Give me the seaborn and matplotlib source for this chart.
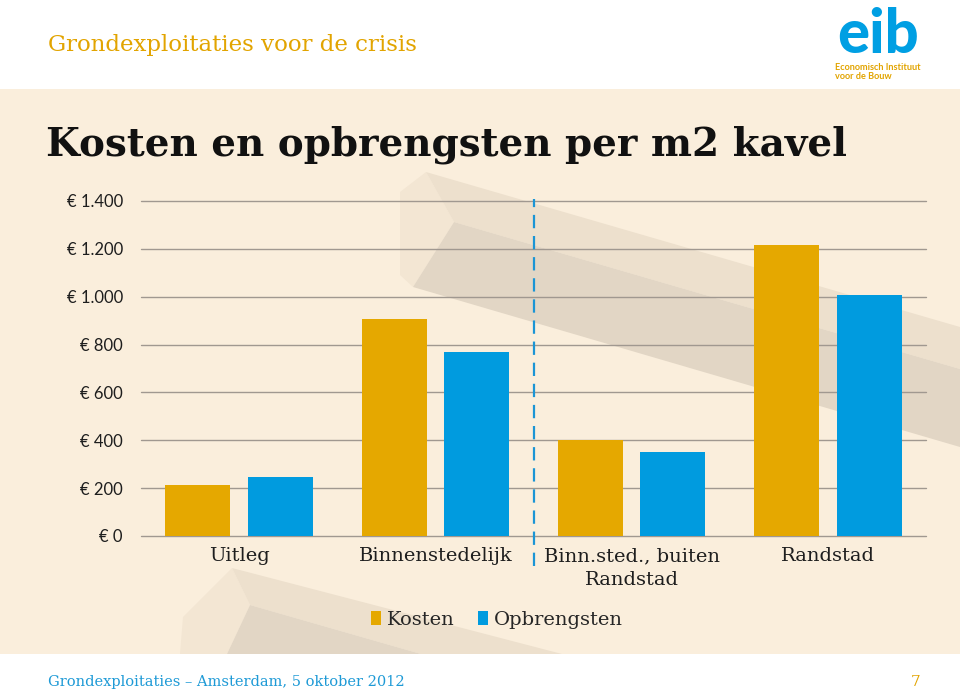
import matplotlib
matplotlib.use("Agg")
import matplotlib.pyplot as plt
from matplotlib.patches import Polygon, Rectangle
import pandas as pd
import seaborn as sns

# ------------------------------------------------------------------------
#  Data (EUR per m2 kavel)
# ------------------------------------------------------------------------
categories = ["Uitleg", "Binnenstedelijk", "Binn.sted., buiten Randstad", "Randstad"]
tick_labels = ["Uitleg", "Binnenstedelijk", "Binn.sted., buiten\nRandstad", "Randstad"]
series = ["Kosten", "Opbrengsten"]
kosten = [213, 905, 402, 1218]
opbrengsten = [248, 768, 353, 1007]
y_ticks = [0, 200, 400, 600, 800, 1000, 1200, 1400]

GOLD = "#E5A800"
BLUE = "#009BDF"
CREAM = "#FAEEDC"
W, H = 960, 692

df = pd.DataFrame({
    "categorie": categories * 2,
    "reeks": [series[0]] * len(categories) + [series[1]] * len(categories),
    "waarde": kosten + opbrengsten,
})

sns.set_theme(style="white")
plt.rcParams["font.family"] = ["DejaVu Serif"]


def px(x, y):
    """pixel coords (top-left origin) -> figure fraction"""
    return x / W, 1 - y / H


def poly(points, color, alpha=1.0):
    pts = [px(x, y) for x, y in points]
    return Polygon(pts, closed=True, transform=fig.transFigure, facecolor=color,
                   edgecolor="none", alpha=alpha, zorder=-2)


fig = plt.figure(figsize=(W / 100, H / 100), dpi=100, facecolor="white")

# slide background
fig.patches.append(Rectangle(px(0, 654), 1, (654 - 89) / H, transform=fig.transFigure,
                             facecolor=CREAM, edgecolor="none", zorder=-3))
# decorative beams
fig.patches.append(poly([(400, 192), (426, 172), (454, 222), (413, 287), (400, 275)], "#F3E6D3"))
fig.patches.append(poly([(426, 172), (960, 327), (960, 369), (454, 222)], "#EDE0CD"))
fig.patches.append(poly([(454, 222), (960, 369), (960, 447), (413, 287)], "#E2D6C5"))
fig.patches.append(poly([(183, 617), (232, 568), (250, 605), (227, 654), (180, 654)], "#F3E6D3"))
fig.patches.append(poly([(232, 568), (562, 654), (421, 654), (250, 605)], "#EDE0CD"))
fig.patches.append(poly([(250, 605), (421, 654), (227, 654)], "#E2D6C5"))

# ------------------------------------------------------------------------
#  Chart
# ------------------------------------------------------------------------
left, right, bottom, top = 141, 926, 536, 201
ax = fig.add_axes([left / W, (H - bottom) / H, (right - left) / W, (bottom - top) / H])
ax.set_facecolor("none")

sns.barplot(data=df, x="categorie", y="waarde", hue="reeks", order=categories,
            hue_order=series, palette=[GOLD, BLUE], saturation=1,
            width=0.84, gap=0.21, linewidth=0, ax=ax, zorder=3)

handles, labels = ax.get_legend_handles_labels()
ax.get_legend().remove()

ax.set_xlim(-0.5, len(categories) - 0.5)
ax.set_ylim(0, 1400)
ax.set_yticks(y_ticks)
ax.set_yticklabels([f"€ {v:,.0f}".replace(",", ".") for v in y_ticks],
                   fontfamily="Lato", fontsize=12, color="#1E1E1E")
ax.set_xticks(range(len(categories)))
ax.set_xticklabels(tick_labels, fontsize=14, color="#1E1E1E", linespacing=1.45)
ax.tick_params(axis="y", length=0, pad=13)
ax.tick_params(axis="x", length=0, pad=8)
ax.set_xlabel("")
ax.set_ylabel("")
for s in ax.spines.values():
    s.set_visible(False)
ax.yaxis.grid(True, color="#A09890", linewidth=1.0)
ax.set_axisbelow(True)
for gl in ax.get_ygridlines():
    gl.set_clip_on(False)

# dashed divider between the groups
ax.axvline(1.5, ymin=-0.09, ymax=1.006, color="#1B95D5", linewidth=1.6,
           linestyle=(0, (6, 3.5)), clip_on=False, zorder=4)

fig.legend(handles, labels, loc="center", bbox_to_anchor=px(497, 620), ncol=2,
           frameon=False, fontsize=14, handlelength=0.5, handleheight=0.75,
           handletextpad=0.3, columnspacing=1.2)

# ------------------------------------------------------------------------
#  Slide texts
# ------------------------------------------------------------------------
fig.text(*px(48, 45), "Grondexploitaties voor de crisis", color="#E2A400",
         fontsize=16.5, va="center", ha="left")
fig.text(*px(46, 145), "Kosten en opbrengsten per m2 kavel", color="#111111",
         fontsize=28, fontweight="bold", va="center", ha="left")
fig.text(*px(48, 682), "Grondexploitaties – Amsterdam, 5 oktober 2012", color="#1E9AD6",
         fontsize=10.5, va="center", ha="left")
fig.text(*px(920, 682), "7", color="#E2A400", fontsize=11, va="center", ha="right")

# logo
fig.text(*px(878, 35), "eib", color="#009FE3", fontfamily="Lato", fontweight="black",
         fontsize=43, va="center", ha="center")
fig.text(*px(835, 72), "Economisch Instituut\nvoor de Bouw", color="#E2A400",
         fontfamily="Lato", fontweight="bold", fontsize=6.6, va="center", ha="left",
         linespacing=1.0)

fig.savefig("out.png", dpi=100, facecolor="white")
plt.close(fig)
